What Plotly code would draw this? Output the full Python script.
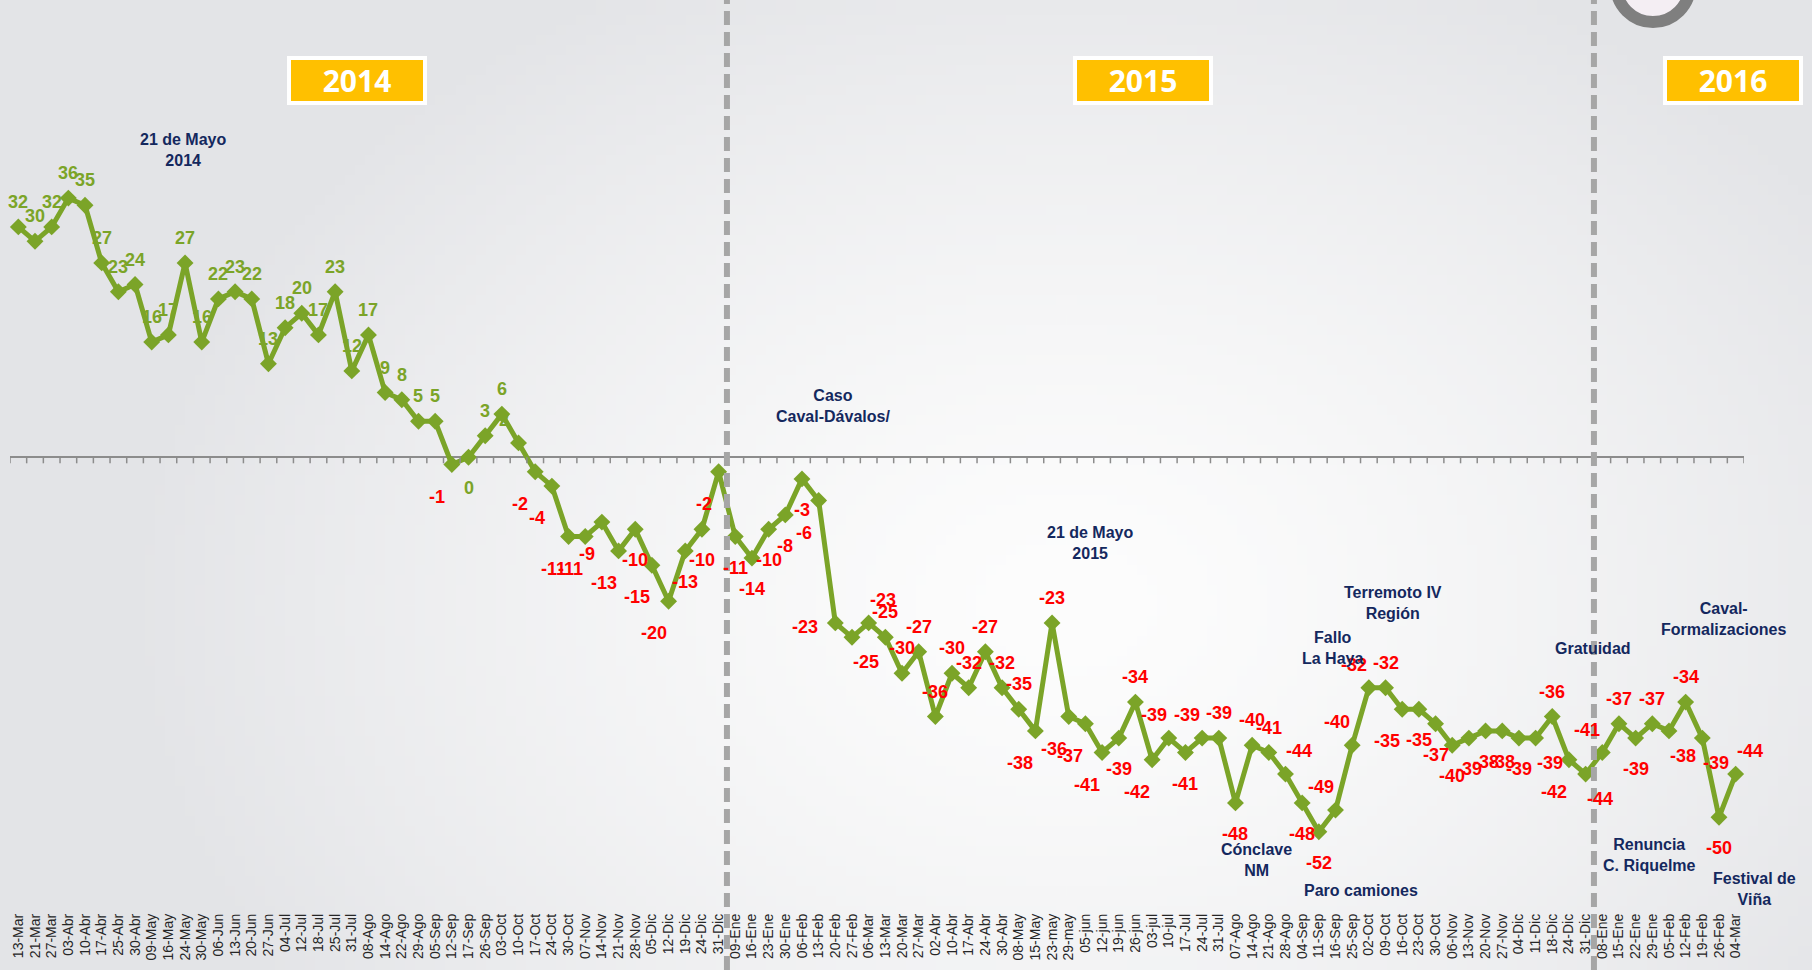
import base64
import struct
import zlib

import numpy as np
import plotly.graph_objects as go

# Semanas (etiquetas del eje X)
weeks_2014 = ["13-Mar", "21-Mar", "27-Mar", "03-Abr", "10-Abr", "17-Abr", "25-Abr", "30-Abr",
              "09-May", "16-May", "24-May", "30-May", "06-Jun", "13-Jun", "20-Jun", "27-Jun",
              "04-Jul", "12-Jul", "18-Jul", "25-Jul", "31-Jul", "08-Ago", "14-Ago", "22-Ago",
              "29-Ago", "05-Sep", "12-Sep", "17-Sep", "26-Sep", "03-Oct", "10-Oct", "17-Oct",
              "24-Oct", "30-Oct", "07-Nov", "14-Nov", "21-Nov", "28-Nov", "05-Dic", "12-Dic",
              "19-Dic", "24-Dic", "31-Dic"]
weeks_2015 = ["09-Ene", "16-Ene", "23-Ene", "30-Ene", "06-Feb", "13-Feb", "20-Feb", "27-Feb",
              "06-Mar", "13-Mar", "20-Mar", "27-Mar", "02-Abr", "10-Abr", "17-Abr", "24-Abr",
              "30-Abr", "08-May", "15-May", "23-may", "29-may", "05-jun", "12-jun", "19-jun",
              "26-jun", "03-jul", "10-jul", "17-Jul", "24-Jul", "31-Jul", "07-Ago", "14-Ago",
              "21-Ago", "28-Ago", "04-Sep", "11-Sep", "16-Sep", "25-Sep", "02-Oct", "09-Oct",
              "16-Oct", "23-Oct", "30-Oct", "06-Nov", "13-Nov", "20-Nov", "27-Nov", "04-Dic",
              "11-Dic", "18-Dic", "24-Dic", "31-Dic"]
weeks_2016 = ["08-Ene", "15-Ene", "22-Ene", "29-Ene", "05-Feb", "12-Feb", "19-Feb", "26-Feb",
              "04-Mar"]

# Valores (saldo) por semana
values_2014 = [32, 30, 32, 36, 35, 27, 23, 24, 16, 17, 27, 16, 22, 23, 22, 13, 18, 20, 17, 23,
               12, 17, 9, 8, 5, 5, -1, 0, 3, 6, 2, -2, -4, -11, -11, -9, -13, -10, -15, -20,
               -13, -10, -2]
values_2015 = [-11, -14, -10, -8, -3, -6, -23, -25, -23, -25, -30, -27, -36, -30, -32, -27,
               -32, -35, -38, -23, -36, -37, -41, -39, -34, -42, -39, -41, -39, -39, -48, -40,
               -41, -44, -48, -52, -49, -40, -32, -32, -35, -35, -37, -40, -39, -38, -38, -39,
               -39, -36, -42, -44]
values_2016 = [-41, -37, -39, -37, -38, -34, -39, -50, -44]

weeks = weeks_2014 + weeks_2015 + weeks_2016
values = values_2014 + values_2015 + values_2016

# Hitos anotados: texto y posicion en pixeles de la figura
events = [
    ("21 de Mayo<br>2014", 183, 150),
    ("Caso<br>Caval-Dávalos/", 833, 406),
    ("21 de Mayo<br>2015", 1090, 543),
    ("Terremoto IV<br>Región", 1393, 603),
    ("Fallo<br>La Haya", 1332, 648),
    ("Cónclave<br>NM", 1256, 860),
    ("Paro camiones", 1361, 890),
    ("Gratuidad", 1593, 648),
    ("Caval-<br>Formalizaciones", 1723, 619),
    ("Renuncia<br>C. Riquelme", 1649, 855),
    ("Festival de<br>Viña", 1755, 889),
]

years = [("2014", 357), ("2015", 1143), ("2016", 1733)]

# donde va cada etiqueta de dato respecto de su punto
label_pos = (["T"] * 26 + ["BL", "B", "T", "T", "TL"] +
             ["BL"] * 6 + ["B", "BL", "BL", "B", "B", "BL"] +
             ["B", "B", "B", "B", "B", "BL", "L", "BR", "TR", "T",
              "T", "T", "T", "T", "T", "T", "T", "T", "BL", "T",
              "BL", "BL", "BL", "B", "T", "BL", "TL", "B", "TL", "T",
              "B", "T", "T", "TR", "B", "B", "TL", "TL", "TL", "T",
              "BL", "B", "B", "B", "B", "B", "B", "B", "BR", "T",
              "BL", "BR"] +
             ["TL", "T", "B", "T", "BR", "T", "BR", "B", "TR"])
OFFSETS = {"T": (0, 25), "B": (0, -31), "TL": (-15, 23), "TR": (14, 23),
           "BL": (-15, -32), "BR": (14, -25), "L": (-30, -4)}

GREEN = "#7BA428"
NAVY = "#14285E"
W, H = 1812, 970
L, R, TOP, BOT = 10, 68, 0, 60
PW, PH = W - L - R, H - TOP - BOT
ZERO_PX, PX_PER_UNIT = 457.3, 7.2


def px(x, y):
    return (x - L) / PW, (H - BOT - y) / PH


def gradient_png(w, h):
    yy, xx = np.mgrid[0:h, 0:w].astype(float)
    dx = (xx / w * W - 1060) / 950
    dy = (yy / h * H - 600) / 720
    t = np.clip(np.sqrt(dx ** 2 + dy ** 2), 0, 1) ** 1.4
    inner = np.array([253, 253, 253])
    outer = np.array([227, 228, 231])
    img = (inner * (1 - t[..., None]) + outer * t[..., None]).astype(np.uint8)
    raw = b"".join(b"\x00" + row.tobytes() for row in img)

    def chunk(tag, data):
        return (struct.pack(">I", len(data)) + tag + data +
                struct.pack(">I", zlib.crc32(tag + data) & 0xffffffff))

    png = (b"\x89PNG\r\n\x1a\n" +
           chunk(b"IHDR", struct.pack(">IIBBBBB", w, h, 8, 2, 0, 0, 0)) +
           chunk(b"IDAT", zlib.compress(raw)) + chunk(b"IEND", b""))
    return "data:image/png;base64," + base64.b64encode(png).decode()


fig = go.Figure()
fig.add_trace(go.Scatter(
    x=list(range(len(weeks))),
    y=values,
    mode="lines+markers",
    line=dict(color=GREEN, width=5),
    marker=dict(symbol="diamond", size=13, color=GREEN),
    hoverinfo="y",
    cliponaxis=False,
    showlegend=False,
))

shapes = []
# marcas del eje en el cero
for i in range(len(weeks) + 1):
    shapes.append(dict(type="line", xref="x", yref="y", x0=i - 0.5, x1=i - 0.5,
                       ysizemode="pixel", yanchor=0, y0=0, y1=-6,
                       line=dict(color="#8C8C8C", width=1.5)))
# divisiones de anio
for xb in (len(weeks_2014) - 0.5, len(weeks_2014) + len(weeks_2015) - 0.5):
    shapes.append(dict(type="line", xref="x", yref="paper", x0=xb, x1=xb,
                       y0=-(BOT / PH), y1=1, layer="above",
                       line=dict(color="#A6A6A6", width=6, dash="14px,7px")))
# logo parcial arriba a la derecha
cx0, cy0 = px(1616, 22)
cx1, cy1 = px(1690, -52)
shapes.append(dict(type="circle", xref="paper", yref="paper", x0=cx0, x1=cx1, y0=cy0, y1=cy1,
                   line=dict(color="#7F7F7F", width=12), fillcolor="#F4EEF3"))

annotations = []
# etiquetas de datos
for i, (v, pos) in enumerate(zip(values, label_pos)):
    dx, dy = OFFSETS[pos]
    annotations.append(dict(text=str(v), x=i, y=v, xref="x", yref="y", showarrow=False,
                            xshift=dx, yshift=dy, xanchor="center", yanchor="middle",
                            font=dict(family="Liberation Sans, Arial", size=18,
                                      color=GREEN if v >= 0 else "#FF0000",
                                      weight="bold")))
for label, x, y in events:
    ax, ay = px(x, y)
    annotations.append(dict(text=label, x=ax, y=ay, xref="paper", yref="paper",
                            showarrow=False, xanchor="center", yanchor="middle",
                            font=dict(family="Liberation Sans, Arial", size=16,
                                      color=NAVY, weight="bold")))
for label, x in years:
    ax, ay = px(x, 80.5)
    annotations.append(dict(text=label, x=ax, y=ay, xref="paper", yref="paper",
                            showarrow=False, xanchor="center", yanchor="middle",
                            width=128, height=37, bgcolor="#FFC000", bordercolor="white",
                            borderwidth=4, borderpad=2,
                            font=dict(family="Open Sans", size=30, color="white",
                                      weight="bold")))

fig.update_layout(
    width=W, height=H,
    margin=dict(l=L, r=R, t=TOP, b=BOT),
    paper_bgcolor="#E9EAEC",
    plot_bgcolor="rgba(0,0,0,0)",
    xaxis=dict(
        tickmode="array", tickvals=list(range(len(weeks))), ticktext=weeks,
        range=[-0.5, len(weeks) - 0.5], tickangle=-90, showgrid=False, zeroline=False,
        showline=False, ticks="", ticklen=2,
        tickfont=dict(family="Liberation Sans, Arial", size=14, color="#262626"),
    ),
    yaxis=dict(
        range=[-(H - BOT - ZERO_PX) / PX_PER_UNIT, ZERO_PX / PX_PER_UNIT],
        showgrid=False, showticklabels=False, zeroline=True,
        zerolinecolor="#8C8C8C", zerolinewidth=2,
    ),
    shapes=shapes,
    annotations=annotations,
    images=[dict(source=gradient_png(181, 97), xref="paper", yref="paper",
                 x=-L / PW, y=1 + TOP / PH, sizex=W / PW, sizey=H / PH,
                 sizing="stretch", xanchor="left", yanchor="top", layer="below")],
)

fig.write_html("out.html", config={"displayModeBar": False},
               post_script="document.body.style.margin='0';")
